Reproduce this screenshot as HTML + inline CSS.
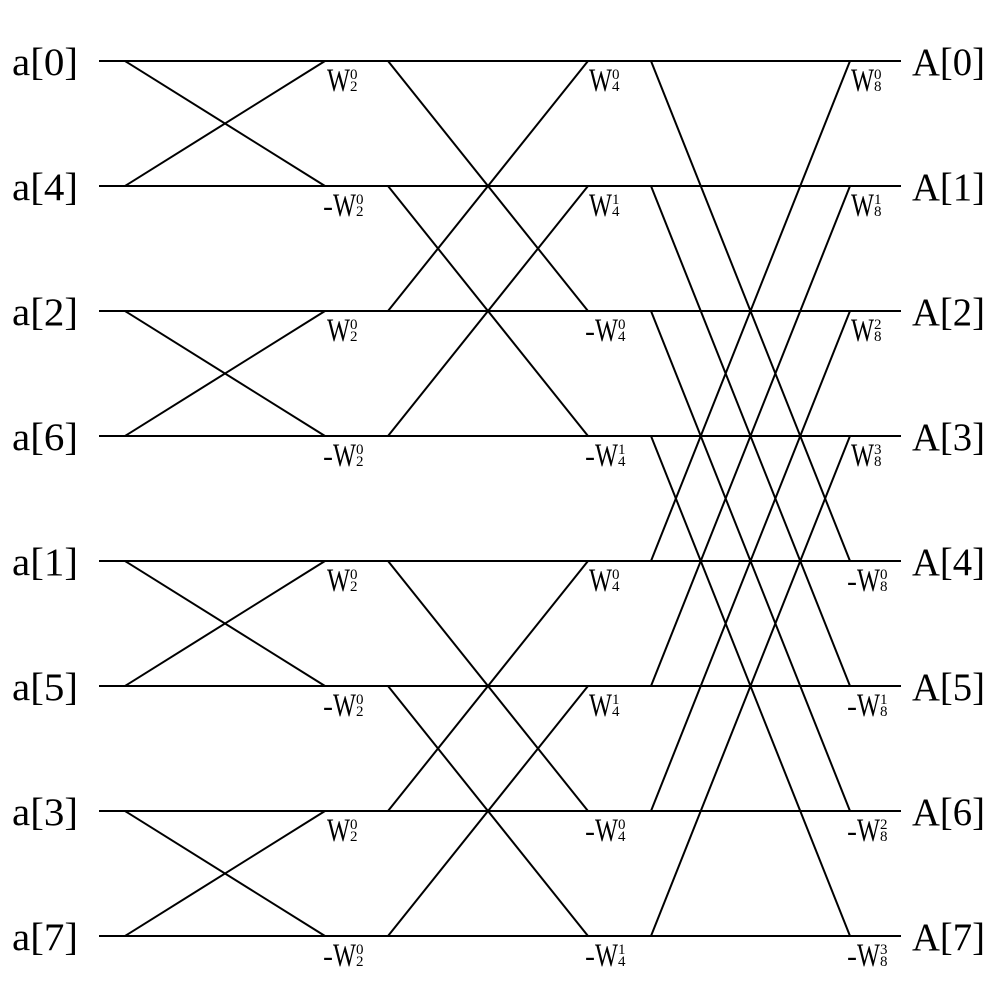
<!DOCTYPE html>
<html><head><meta charset="utf-8"><style>
html,body{margin:0;padding:0;background:#fff;}
svg{display:block;}
text{font-family:"Liberation Serif",serif;fill:#000;}
</style></head><body>
<svg width="1000" height="999" viewBox="0 0 1000 999" xmlns="http://www.w3.org/2000/svg">
<g stroke="#000" stroke-width="2" fill="none">
<line x1="99" y1="61" x2="901" y2="61"/>
<line x1="99" y1="186" x2="901" y2="186"/>
<line x1="99" y1="311" x2="901" y2="311"/>
<line x1="99" y1="436" x2="901" y2="436"/>
<line x1="99" y1="561" x2="901" y2="561"/>
<line x1="99" y1="686" x2="901" y2="686"/>
<line x1="99" y1="811" x2="901" y2="811"/>
<line x1="99" y1="936" x2="901" y2="936"/>
<line x1="125" y1="61" x2="325" y2="186"/><line x1="125" y1="186" x2="325" y2="61"/>
<line x1="125" y1="311" x2="325" y2="436"/><line x1="125" y1="436" x2="325" y2="311"/>
<line x1="125" y1="561" x2="325" y2="686"/><line x1="125" y1="686" x2="325" y2="561"/>
<line x1="125" y1="811" x2="325" y2="936"/><line x1="125" y1="936" x2="325" y2="811"/>
<line x1="388" y1="61" x2="588" y2="311"/><line x1="388" y1="311" x2="588" y2="61"/>
<line x1="388" y1="186" x2="588" y2="436"/><line x1="388" y1="436" x2="588" y2="186"/>
<line x1="388" y1="561" x2="588" y2="811"/><line x1="388" y1="811" x2="588" y2="561"/>
<line x1="388" y1="686" x2="588" y2="936"/><line x1="388" y1="936" x2="588" y2="686"/>
<line x1="651" y1="61" x2="850" y2="561"/><line x1="651" y1="561" x2="850" y2="61"/>
<line x1="651" y1="186" x2="850" y2="686"/><line x1="651" y1="686" x2="850" y2="186"/>
<line x1="651" y1="311" x2="850" y2="811"/><line x1="651" y1="811" x2="850" y2="311"/>
<line x1="651" y1="436" x2="850" y2="936"/><line x1="651" y1="936" x2="850" y2="436"/>
</g>
<g font-size="39">
<text x="12" y="75" textLength="66" lengthAdjust="spacingAndGlyphs">a[0]</text>
<text x="12" y="200" textLength="66" lengthAdjust="spacingAndGlyphs">a[4]</text>
<text x="12" y="325" textLength="66" lengthAdjust="spacingAndGlyphs">a[2]</text>
<text x="12" y="450" textLength="66" lengthAdjust="spacingAndGlyphs">a[6]</text>
<text x="12" y="575" textLength="66" lengthAdjust="spacingAndGlyphs">a[1]</text>
<text x="12" y="700" textLength="66" lengthAdjust="spacingAndGlyphs">a[5]</text>
<text x="12" y="825" textLength="66" lengthAdjust="spacingAndGlyphs">a[3]</text>
<text x="12" y="950" textLength="66" lengthAdjust="spacingAndGlyphs">a[7]</text>
<text x="912" y="75" textLength="73" lengthAdjust="spacingAndGlyphs">A[0]</text>
<text x="912" y="200" textLength="73" lengthAdjust="spacingAndGlyphs">A[1]</text>
<text x="912" y="325" textLength="73" lengthAdjust="spacingAndGlyphs">A[2]</text>
<text x="912" y="450" textLength="73" lengthAdjust="spacingAndGlyphs">A[3]</text>
<text x="912" y="575" textLength="73" lengthAdjust="spacingAndGlyphs">A[4]</text>
<text x="912" y="700" textLength="73" lengthAdjust="spacingAndGlyphs">A[5]</text>
<text x="912" y="825" textLength="73" lengthAdjust="spacingAndGlyphs">A[6]</text>
<text x="912" y="950" textLength="73" lengthAdjust="spacingAndGlyphs">A[7]</text>
</g>
<g>
<text x="327" y="91" font-size="33" textLength="23" lengthAdjust="spacingAndGlyphs">W</text><text x="350" y="79" font-size="15">0</text><text x="350" y="91" font-size="15">2</text>
<text x="323" y="216" font-size="30">-</text><text x="333" y="216" font-size="33" textLength="23" lengthAdjust="spacingAndGlyphs">W</text><text x="356" y="204" font-size="15">0</text><text x="356" y="216" font-size="15">2</text>
<text x="327" y="341" font-size="33" textLength="23" lengthAdjust="spacingAndGlyphs">W</text><text x="350" y="329" font-size="15">0</text><text x="350" y="341" font-size="15">2</text>
<text x="323" y="466" font-size="30">-</text><text x="333" y="466" font-size="33" textLength="23" lengthAdjust="spacingAndGlyphs">W</text><text x="356" y="454" font-size="15">0</text><text x="356" y="466" font-size="15">2</text>
<text x="327" y="591" font-size="33" textLength="23" lengthAdjust="spacingAndGlyphs">W</text><text x="350" y="579" font-size="15">0</text><text x="350" y="591" font-size="15">2</text>
<text x="323" y="716" font-size="30">-</text><text x="333" y="716" font-size="33" textLength="23" lengthAdjust="spacingAndGlyphs">W</text><text x="356" y="704" font-size="15">0</text><text x="356" y="716" font-size="15">2</text>
<text x="327" y="841" font-size="33" textLength="23" lengthAdjust="spacingAndGlyphs">W</text><text x="350" y="829" font-size="15">0</text><text x="350" y="841" font-size="15">2</text>
<text x="323" y="966" font-size="30">-</text><text x="333" y="966" font-size="33" textLength="23" lengthAdjust="spacingAndGlyphs">W</text><text x="356" y="954" font-size="15">0</text><text x="356" y="966" font-size="15">2</text>
<text x="589" y="91" font-size="33" textLength="23" lengthAdjust="spacingAndGlyphs">W</text><text x="612" y="79" font-size="15">0</text><text x="612" y="91" font-size="15">4</text>
<text x="589" y="216" font-size="33" textLength="23" lengthAdjust="spacingAndGlyphs">W</text><text x="612" y="204" font-size="15">1</text><text x="612" y="216" font-size="15">4</text>
<text x="585" y="341" font-size="30">-</text><text x="595" y="341" font-size="33" textLength="23" lengthAdjust="spacingAndGlyphs">W</text><text x="618" y="329" font-size="15">0</text><text x="618" y="341" font-size="15">4</text>
<text x="585" y="466" font-size="30">-</text><text x="595" y="466" font-size="33" textLength="23" lengthAdjust="spacingAndGlyphs">W</text><text x="618" y="454" font-size="15">1</text><text x="618" y="466" font-size="15">4</text>
<text x="589" y="591" font-size="33" textLength="23" lengthAdjust="spacingAndGlyphs">W</text><text x="612" y="579" font-size="15">0</text><text x="612" y="591" font-size="15">4</text>
<text x="589" y="716" font-size="33" textLength="23" lengthAdjust="spacingAndGlyphs">W</text><text x="612" y="704" font-size="15">1</text><text x="612" y="716" font-size="15">4</text>
<text x="585" y="841" font-size="30">-</text><text x="595" y="841" font-size="33" textLength="23" lengthAdjust="spacingAndGlyphs">W</text><text x="618" y="829" font-size="15">0</text><text x="618" y="841" font-size="15">4</text>
<text x="585" y="966" font-size="30">-</text><text x="595" y="966" font-size="33" textLength="23" lengthAdjust="spacingAndGlyphs">W</text><text x="618" y="954" font-size="15">1</text><text x="618" y="966" font-size="15">4</text>
<text x="851" y="91" font-size="33" textLength="23" lengthAdjust="spacingAndGlyphs">W</text><text x="874" y="79" font-size="15">0</text><text x="874" y="91" font-size="15">8</text>
<text x="851" y="216" font-size="33" textLength="23" lengthAdjust="spacingAndGlyphs">W</text><text x="874" y="204" font-size="15">1</text><text x="874" y="216" font-size="15">8</text>
<text x="851" y="341" font-size="33" textLength="23" lengthAdjust="spacingAndGlyphs">W</text><text x="874" y="329" font-size="15">2</text><text x="874" y="341" font-size="15">8</text>
<text x="851" y="466" font-size="33" textLength="23" lengthAdjust="spacingAndGlyphs">W</text><text x="874" y="454" font-size="15">3</text><text x="874" y="466" font-size="15">8</text>
<text x="847" y="591" font-size="30">-</text><text x="857" y="591" font-size="33" textLength="23" lengthAdjust="spacingAndGlyphs">W</text><text x="880" y="579" font-size="15">0</text><text x="880" y="591" font-size="15">8</text>
<text x="847" y="716" font-size="30">-</text><text x="857" y="716" font-size="33" textLength="23" lengthAdjust="spacingAndGlyphs">W</text><text x="880" y="704" font-size="15">1</text><text x="880" y="716" font-size="15">8</text>
<text x="847" y="841" font-size="30">-</text><text x="857" y="841" font-size="33" textLength="23" lengthAdjust="spacingAndGlyphs">W</text><text x="880" y="829" font-size="15">2</text><text x="880" y="841" font-size="15">8</text>
<text x="847" y="966" font-size="30">-</text><text x="857" y="966" font-size="33" textLength="23" lengthAdjust="spacingAndGlyphs">W</text><text x="880" y="954" font-size="15">3</text><text x="880" y="966" font-size="15">8</text>
</g>
</svg>
</body></html>
